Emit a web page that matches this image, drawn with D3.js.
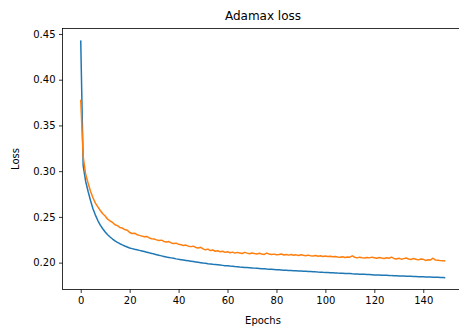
<!DOCTYPE html>
<html>
<head>
<meta charset="utf-8">
<script src="https://cdn.jsdelivr.net/npm/d3@7"></script>
<style>
  body { margin: 0; background: #fff; }
  svg { display: block; font-family: "DejaVu Sans", sans-serif; }
</style>
</head>
<body>
<script>
// training loss per epoch (blue)
var trainLoss = [
  0.443, 0.306, 0.289, 0.278, 0.268, 0.259, 0.252, 0.246, 0.241, 0.237,
  0.2335, 0.2305, 0.228, 0.2258, 0.2238, 0.2222, 0.2207, 0.2194, 0.2182, 0.2171,
  0.2160, 0.2153, 0.2146, 0.2140, 0.2134, 0.2128, 0.2121, 0.2114, 0.2107, 0.2101,
  0.2094, 0.2087, 0.2080, 0.2074, 0.2068, 0.2062, 0.2057, 0.2052, 0.2047, 0.2041,
  0.2036, 0.2032, 0.2028, 0.2024, 0.2020, 0.2016, 0.2012, 0.2008, 0.2004, 0.2000,
  0.1996, 0.1993, 0.1989, 0.1986, 0.1982, 0.1979, 0.1976, 0.1973, 0.1970, 0.1967,
  0.1965, 0.1962, 0.1960, 0.1957, 0.1955, 0.1952, 0.1950, 0.1948, 0.1946, 0.1944,
  0.1942, 0.1940, 0.1938, 0.1936, 0.1934, 0.1932, 0.1930, 0.1929, 0.1927, 0.1925,
  0.1923, 0.1922, 0.1920, 0.1918, 0.1917, 0.1915, 0.1914, 0.1912, 0.1911, 0.1909,
  0.1908, 0.1906, 0.1905, 0.1903, 0.1902, 0.1900, 0.1899, 0.1897, 0.1896, 0.1894,
  0.1893, 0.1892, 0.1890, 0.1889, 0.1888, 0.1886, 0.1885, 0.1884, 0.1882, 0.1881,
  0.1880, 0.1878, 0.1877, 0.1876, 0.1874, 0.1873, 0.1872, 0.1870, 0.1869, 0.1868,
  0.1866, 0.1865, 0.1864, 0.1863, 0.1862, 0.1861, 0.1860, 0.1858, 0.1857, 0.1856,
  0.1855, 0.1854, 0.1853, 0.1852, 0.1851, 0.1850, 0.1849, 0.1848, 0.1847, 0.1846,
  0.1845, 0.1844, 0.1843, 0.1842, 0.1841, 0.1840, 0.1839, 0.1838, 0.1837, 0.1836
];

// validation loss per epoch (orange)
var valLoss = [
  0.378, 0.316, 0.297, 0.287, 0.278, 0.271, 0.265, 0.261, 0.257, 0.2535,
  0.251, 0.2475, 0.2455, 0.244, 0.2415, 0.2405, 0.2385, 0.2378, 0.2362, 0.2355,
  0.2330, 0.2318, 0.2322, 0.2305, 0.2298, 0.2290, 0.2282, 0.2286, 0.2270, 0.2262,
  0.2258, 0.2249, 0.2241, 0.2246, 0.2232, 0.2226, 0.2230, 0.2215, 0.2210, 0.2213,
  0.2200, 0.2196, 0.2188, 0.2192, 0.2180, 0.2175, 0.2180, 0.2166, 0.2160, 0.2168,
  0.2150, 0.2140, 0.2148, 0.2132, 0.2138, 0.2125, 0.2130, 0.2118, 0.2124, 0.2112,
  0.2120, 0.2108, 0.2115, 0.2104, 0.2112, 0.2106, 0.2100, 0.2112, 0.2104, 0.2098,
  0.2106, 0.2100, 0.2095, 0.2102, 0.2094, 0.2090, 0.2104, 0.2095, 0.2088, 0.2093,
  0.2086, 0.2090, 0.2095, 0.2084, 0.2089, 0.2082, 0.2088, 0.2080, 0.2085, 0.2078,
  0.2086, 0.2080, 0.2075, 0.2082, 0.2076, 0.2072, 0.2078, 0.2070, 0.2075, 0.2068,
  0.2073, 0.2066, 0.2070, 0.2064, 0.2068, 0.2062, 0.2058, 0.2064, 0.2056, 0.2062,
  0.2060, 0.2074, 0.2058, 0.2052, 0.2060, 0.2054, 0.2050, 0.2057, 0.2052, 0.2060,
  0.2054, 0.2048, 0.2056, 0.2050, 0.2045, 0.2054, 0.2048, 0.2060, 0.2046, 0.2040,
  0.2048, 0.2038, 0.2044, 0.2050, 0.2040, 0.2035, 0.2046, 0.2038, 0.2030, 0.2040,
  0.2036, 0.2024, 0.2032, 0.2030, 0.2048, 0.2028, 0.2025, 0.2022, 0.2020, 0.2018
];

var xTicks = [0, 20, 40, 60, 80, 100, 120, 140];
var yTicks = [0.20, 0.25, 0.30, 0.35, 0.40, 0.45];

var width = 459,
    height = 327;

// plot area edges (right edge runs past the window, as in the reference)
var padLeft = 62.5, padTop = 28.5, padRight = 463.5, padBottom = 289.5;

var svg = d3.select("body").append("svg")
    .attr("width", width)
    .attr("height", height);

var n = trainLoss.length;
var xPad = (n - 1) * 0.05;
var x = d3.scaleLinear()
    .domain([-xPad, n - 1 + xPad])
    .range([padLeft, padRight]);

var all = trainLoss.concat(valLoss);
var ymin = d3.min(all), ymax = d3.max(all);
var yPad = (ymax - ymin) * 0.05;
var y = d3.scaleLinear()
    .domain([ymin - yPad, ymax + yPad])
    .range([padBottom, padTop]);

svg.append("clipPath").attr("id", "clip")
  .append("rect")
    .attr("x", padLeft).attr("y", padTop)
    .attr("width", padRight - padLeft).attr("height", padBottom - padTop);

var line = d3.line()
    .x(function(d, i) { return x(i); })
    .y(function(d) { return y(d); });

var plot = svg.append("g").attr("clip-path", "url(#clip)");

plot.append("path")
    .datum(trainLoss)
    .attr("fill", "none")
    .attr("stroke", "#1f77b4")
    .attr("stroke-width", 1.5)
    .attr("stroke-linejoin", "round")
    .attr("d", line);

plot.append("path")
    .datum(valLoss)
    .attr("fill", "none")
    .attr("stroke", "#ff7f0e")
    .attr("stroke-width", 1.5)
    .attr("stroke-linejoin", "round")
    .attr("d", line);

// axes
var xAxis = svg.append("g")
    .attr("transform", "translate(0," + padBottom + ")")
    .call(d3.axisBottom(x).tickValues(xTicks).tickSize(3.5).tickPadding(3.5).tickFormat(d3.format("d")));

var yAxis = svg.append("g")
    .attr("transform", "translate(" + padLeft + ",0)")
    .call(d3.axisLeft(y).tickValues(yTicks).tickSize(3.5).tickPadding(3.5).tickFormat(d3.format(".2f")));

[xAxis, yAxis].forEach(function(a) {
  a.select(".domain").remove();
  a.selectAll(".tick line").attr("stroke", "#000").attr("stroke-width", 0.8);
  a.selectAll(".tick text")
    .attr("fill", "#000")
    .style("font-size", "10px")
    .style("font-family", "DejaVu Sans");
});

// spines
svg.append("rect")
    .attr("x", padLeft).attr("y", padTop)
    .attr("width", padRight - padLeft).attr("height", padBottom - padTop)
    .attr("fill", "none")
    .attr("stroke", "#000")
    .attr("stroke-width", 0.8);

svg.append("text")
    .attr("x", (padLeft + padRight) / 2)
    .attr("y", 20)
    .attr("text-anchor", "middle")
    .style("font-size", "12px")
    .text("Adamax loss");

svg.append("text")
    .attr("x", (padLeft + padRight) / 2)
    .attr("y", 324)
    .attr("text-anchor", "middle")
    .style("font-size", "10px")
    .text("Epochs");

svg.append("text")
    .attr("transform", "translate(19," + (padTop + padBottom) / 2 + ") rotate(-90)")
    .attr("text-anchor", "middle")
    .style("font-size", "10px")
    .text("Loss");
</script>
</body>
</html>
